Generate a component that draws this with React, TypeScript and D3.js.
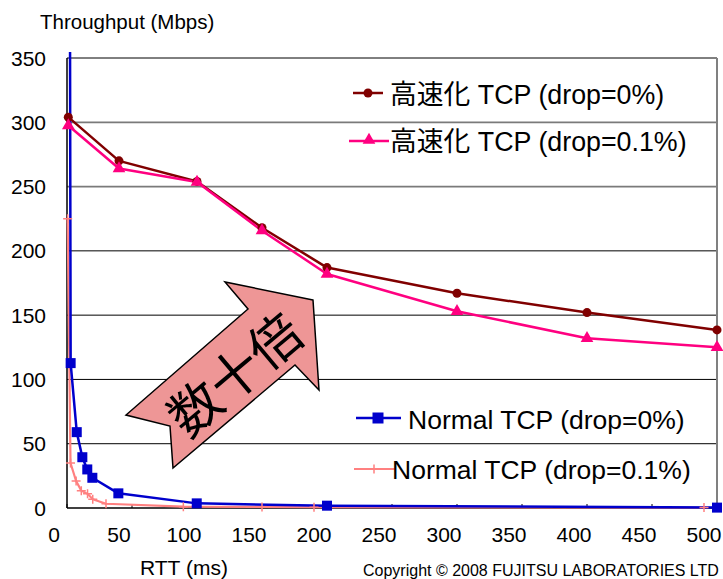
import React from 'react';
import * as d3 from 'd3';

// RTT tick values and throughput tick values
const rttTicks = [0, 50, 100, 150, 200, 250, 300, 350, 400, 450, 500];
const throughputTicks = [0, 50, 100, 150, 200, 250, 300, 350];

// 高速化 TCP series
const fastRtt = [1, 40, 100, 150, 200, 300, 400, 500];
const fastDrop0 = [304, 270, 254, 218, 187, 167, 152, 138.5];
const fastDrop01 = [297.5, 264, 253.5, 215.7, 182, 153, 132, 125];

// Normal TCP series
const normalRtt0 = [2.3, 2.8, 7.5, 11.8, 15.6, 19.5, 39.5, 99.8, 200, 500];
const normalDrop0 = [380, 112.7, 59, 39.5, 30, 23.5, 11.4, 3.6, 1.8, 0.3];
const normalRtt01 = [0.5, 2.7, 7, 11, 15.8, 19.8, 30, 89.5, 150, 190, 490];
const normalDrop01 = [225, 35, 21, 13.5, 11, 6.8, 3.3, 1, 0.8, 0.6, 0.3];

const legendLabels = [
  '高速化 TCP (drop=0%)',
  '高速化 TCP (drop=0.1%)',
  'Normal TCP (drop=0%)',
  'Normal TCP (drop=0.1%)'
];

const W = 723;
const H = 579;
const plot = { left: 67, right: 717, top: 58, bottom: 508 };
const latin = '"Liberation Sans", Arial, sans-serif';
const cjk = '"Liberation Sans", "Noto Sans CJK JP", sans-serif';

const x = d3.scaleLinear().domain([0, 500]).range([plot.left, plot.right]);
const y = d3.scaleLinear().domain([0, 350]).range([plot.bottom, plot.top]);

const zip = (xs: number[], ys: number[]) => xs.map((v, i) => [v, ys[i]] as [number, number]);
const line = d3.line<[number, number]>().x(d => x(d[0])).y(d => y(d[1]));

const triangle = d3.symbol().type(d3.symbolTriangle).size(70);

const App: React.FC = () => {
  const fast0 = zip(fastRtt, fastDrop0);
  const fast01 = zip(fastRtt, fastDrop01);
  const norm0 = zip(normalRtt0, normalDrop0);
  const norm01 = zip(normalRtt01, normalDrop01);

  const square = (px: number, py: number, key: string, s = 10) => (
    <rect key={key} x={px - s / 2} y={py - s / 2} width={s} height={s} fill="#0000cc" />
  );
  const cross = (px: number, py: number, key: string, s = 4.5) => (
    <path key={key} d={`M${px - s},${py}H${px + s}M${px},${py - s}V${py + s}`} stroke="#ff8080" strokeWidth={1.5} />
  );

  // arrow polygon (annotation shape)
  const arrow = [
    [313, 300], [225, 282], [248, 309], [126, 415], [170, 426], [173, 468], [295, 365], [319, 390]
  ];

  return (
    <svg width={W} height={H} style={{ position: 'absolute', left: 0, top: 0, background: '#fff' }}>
      <defs>
        <clipPath id="plotClip">
          <rect x={plot.left - 5} y={plot.top - 6} width={plot.right - plot.left + 10} height={plot.bottom - plot.top + 10} />
        </clipPath>
      </defs>

      {/* gridlines */}
      {throughputTicks.filter(t => t > 0).map(t => (
        <line key={t} x1={plot.left} x2={plot.right} y1={y(t)} y2={y(t)}
          stroke={t === 300 || t === 250 ? '#7a7a7a' : '#000'} strokeWidth={t === 300 || t === 250 ? 1.8 : 1} />
      ))}
      <line x1={plot.right} x2={plot.right} y1={plot.top} y2={plot.bottom} stroke="#808080" strokeWidth={2} />

      {/* axes */}
      <line x1={plot.left} x2={plot.left} y1={plot.top} y2={plot.bottom} stroke="#000" strokeWidth={1.5} />
      <line x1={plot.left} x2={plot.right} y1={plot.bottom} y2={plot.bottom} stroke="#000" strokeWidth={1.5} />
      {rttTicks.map(t => (
        <line key={t} x1={x(t)} x2={x(t)} y1={plot.bottom} y2={plot.bottom - 4} stroke="#000" strokeWidth={1} />
      ))}

      {throughputTicks.map(t => (
        <text key={t} x={46} y={y(t) + 7.5} textAnchor="end" fontFamily={latin} fontSize={21}>{t}</text>
      ))}
      {rttTicks.map(t => (
        <text key={t} x={x(t) - 13} y={542} textAnchor="middle" fontFamily={latin} fontSize={21}>{t}</text>
      ))}

      <text x={40} y={29} fontFamily={latin} fontSize={20.5}>Throughput (Mbps)</text>
      <text x={140} y={575} fontFamily={latin} fontSize={21}>RTT (ms)</text>
      <text x={363} y={576} fontFamily={latin} fontSize={16}>Copyright © 2008 FUJITSU LABORATORIES LTD</text>

      {/* series lines */}
      <g clipPath="url(#plotClip)" fill="none" strokeLinejoin="round">
        <path d={line(norm01) || ''} stroke="#ff8080" strokeWidth={2.2} />
        <path d={line(norm0) || ''} stroke="#0000cc" strokeWidth={2.5} />
        <path d={line(fast0) || ''} stroke="#800000" strokeWidth={2.5} />
        <path d={line(fast01) || ''} stroke="#ff0080" strokeWidth={2.5} />
      </g>

      {/* markers */}
      {norm01.map((d, i) => cross(x(d[0]), y(d[1]), 'c' + i))}
      {norm0.filter(d => d[1] <= 350).map((d, i) => square(x(d[0]), y(d[1]), 's' + i))}
      {fast0.map((d, i) => (
        <circle key={'o' + i} cx={x(d[0])} cy={y(d[1])} r={4.5} fill="#800000" />
      ))}
      {fast01.map((d, i) => (
        <path key={'t' + i} d={triangle() || ''} transform={`translate(${x(d[0])},${y(d[1])})`} fill="#ff0080" />
      ))}

      {/* annotation arrow */}
      <polygon points={arrow.map(p => p.join(',')).join(' ')} fill="#ee9696" stroke="#000" strokeWidth={1.5} strokeLinejoin="miter" />
      <text x={233} y={372} transform="rotate(-40 233 372)" textAnchor="middle" dominantBaseline="central"
        fontFamily='"Noto Sans CJK JP", sans-serif' fontSize={52}>数十倍</text>

      {/* legend */}
      <line x1={353} x2={383} y1={93} y2={93} stroke="#800000" strokeWidth={2.5} />
      <circle cx={368} cy={93} r={4.5} fill="#800000" />
      <text x={390} y={104} fontFamily={cjk} fontSize={26.8}>{legendLabels[0]}</text>

      <line x1={349} x2={389} y1={141} y2={141} stroke="#ff0080" strokeWidth={2.5} />
      <path d={triangle() || ''} transform="translate(369,140)" fill="#ff0080" />
      <text x={390} y={151} fontFamily={cjk} fontSize={26.8}>{legendLabels[1]}</text>

      <line x1={356} x2={401} y1={418} y2={418} stroke="#0000cc" strokeWidth={2.5} />
      {square(378, 418, 'ls', 11)}
      <text x={408} y={429} fontFamily={latin} fontSize={26.5}>{legendLabels[2]}</text>

      <line x1={354} x2={395} y1={469} y2={469} stroke="#ff8080" strokeWidth={2.2} />
      {cross(374, 469, 'lc')}
      <text x={392} y={479} fontFamily={latin} fontSize={26.5}>{legendLabels[3]}</text>
    </svg>
  );
};

export default App;
